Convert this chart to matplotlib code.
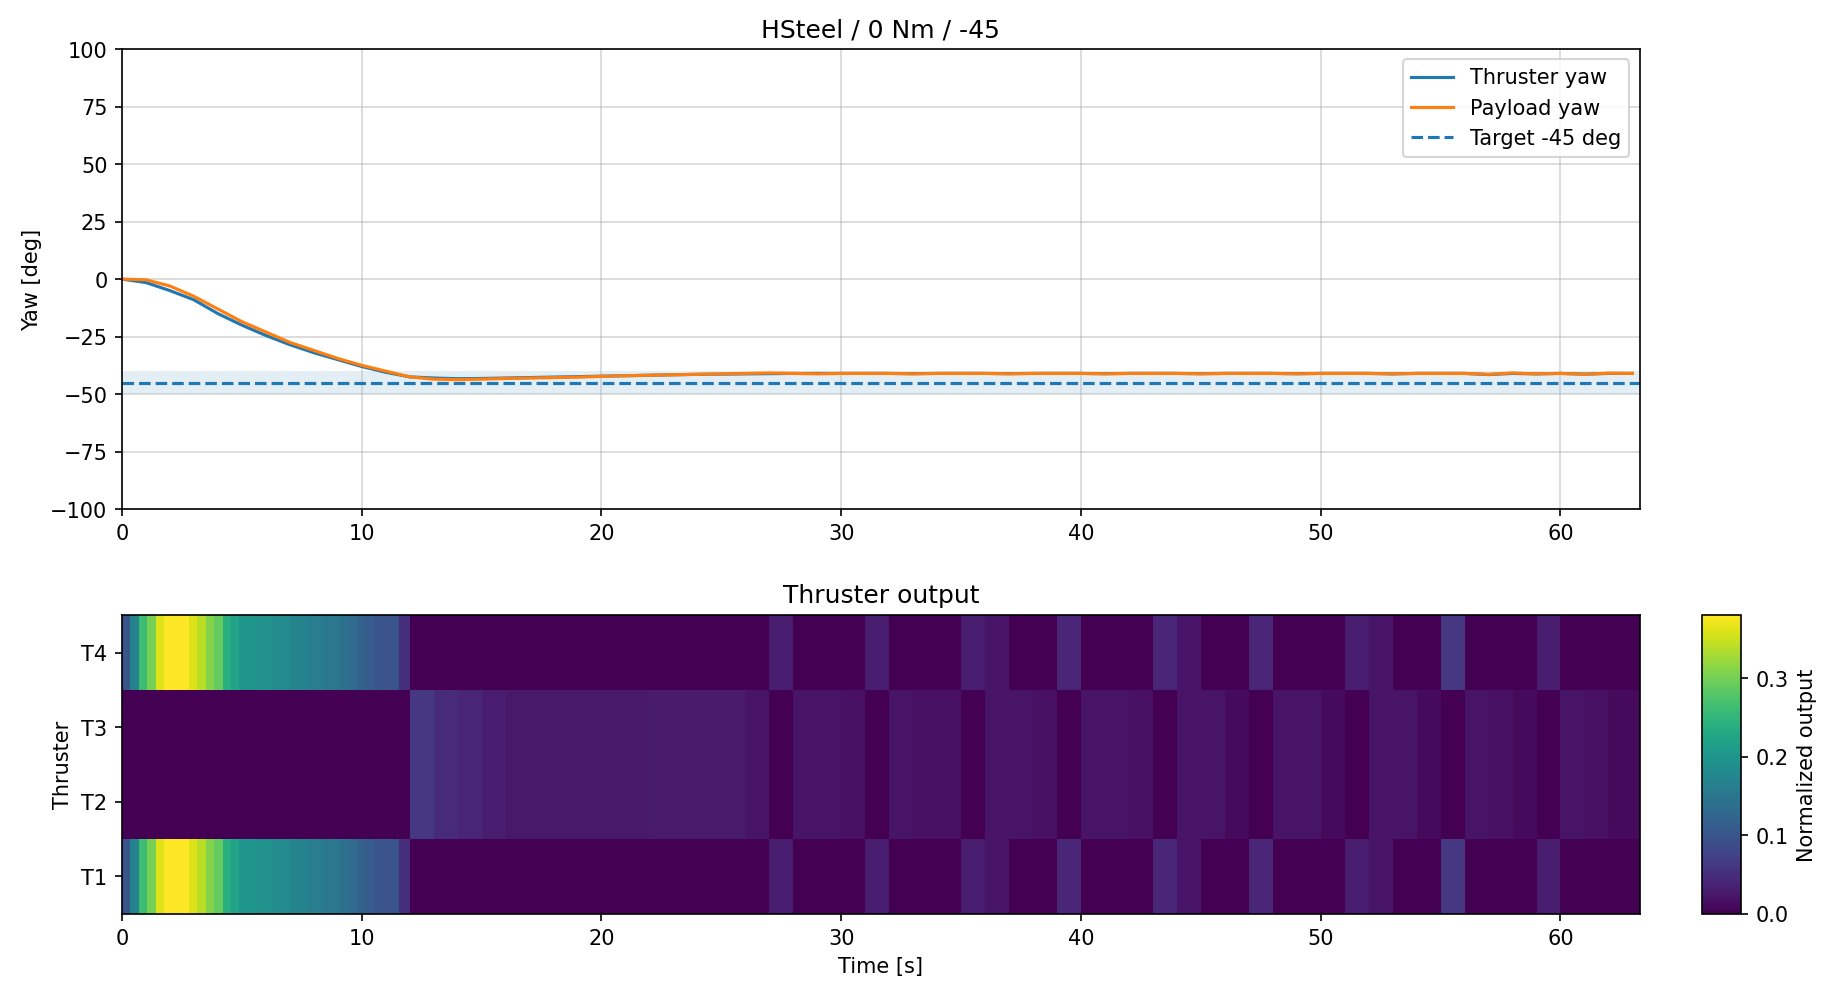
import numpy as np
import matplotlib
matplotlib.use("Agg")
import matplotlib.pyplot as plt

# yaw traces, sampled every 1 s
t_yaw = np.arange(0, 64)
thruster_yaw = [0, -1.5, -5, -9, -15, -20, -24.5, -28.5, -32, -35, -38, -40.5, -42.5, -43, -43.3,
                -43.2, -43, -42.8, -42.6, -42.4, -42.2, -42, -41.8, -41.6, -41.4, -41.3, -41.2,
                -41.1, -41, -41, -41, -41, -41, -41.1, -41, -41, -41, -41.1, -41, -41, -41,
                -41.1, -41, -41, -41, -41.1, -41, -41, -41, -41.1, -41, -41, -41, -41.2, -41,
                -41, -41, -41.5, -41, -41.2, -41, -41.3, -41, -41]
payload_yaw = [0, -0.3, -3, -7.5, -13, -18.5, -23, -27.5, -31, -34.5, -37.5, -40, -42.5, -43.5, -43.7,
               -43.5, -43.2, -43, -42.8, -42.6, -42.3, -42, -41.8, -41.6, -41.4, -41.2, -41, -40.8,
               -41, -41.2, -41, -41, -41, -41.2, -41, -41, -41, -41.2, -41, -41, -41, -41.2, -41,
               -41, -41, -41.2, -41, -41, -41, -41.2, -41, -41, -41, -41.2, -41, -41, -41,
               -41.4, -40.8, -41.2, -41, -41.4, -40.9, -41]
target = -45
tolerance = 5

# thruster outputs: early bins of 0.35 s, later bins of 1 s
early_edges = np.round(np.arange(0, 12.0, 0.35), 2)
t1_early = [0.1, 0.17, 0.26, 0.3, 0.36, 0.38, 0.38, 0.38, 0.36, 0.34, 0.31, 0.29, 0.24, 0.22, 0.2,
            0.2, 0.19, 0.19, 0.18, 0.18, 0.17, 0.17, 0.16, 0.16, 0.15, 0.15, 0.14, 0.13, 0.12,
            0.11, 0.1, 0.1, 0.1, 0.05, 0.05]
late_edges = np.arange(12.0, 64.0, 1.0)
t1_late = [0, 0, 0, 0, 0, 0, 0, 0, 0, 0, 0, 0, 0, 0, 0, 0.03, 0, 0, 0, 0.03, 0, 0, 0, 0.03, 0.02,
           0, 0, 0.04, 0, 0, 0, 0.04, 0.02, 0, 0, 0.04, 0, 0, 0, 0.03, 0.02, 0, 0, 0.06, 0, 0, 0,
           0.03, 0, 0, 0, 0]
t2_late = [0.06, 0.045, 0.04, 0.03, 0.025, 0.025, 0.025, 0.025, 0.025, 0.025, 0.028, 0.028, 0.028,
           0.028, 0.02, 0, 0.02, 0.02, 0.015, 0, 0.02, 0.015, 0.015, 0, 0.02, 0.02, 0.015, 0,
           0.02, 0.02, 0.015, 0, 0.02, 0.02, 0.01, 0, 0.02, 0.02, 0.01, 0, 0.02, 0.02, 0.01,
           0, 0.02, 0.015, 0.01, 0, 0.02, 0.015, 0.01, 0.01]
thruster_labels = ["T1", "T2", "T3", "T4"]

edges = np.concatenate([early_edges, late_edges, [63.3]])
edges = edges[:len(t1_early) + len(t1_late) + 1]
edges[-1] = 63.3
t1 = np.array(t1_early + t1_late)[:len(edges) - 1]
t2 = np.array([0.0] * len(t1_early) + t2_late)[:len(edges) - 1]
grid = np.vstack([t1, t2, t2, t1])

fig = plt.figure(figsize=(12.19, 6.61), dpi=150)
ax1 = fig.add_axes([0.0667, 0.486, 0.830, 0.464])
ax2 = fig.add_axes([0.0667, 0.078, 0.830, 0.301])
cax = fig.add_axes([0.931, 0.078, 0.021, 0.301])

ax1.axhspan(target - tolerance, target + tolerance, color="tab:blue", alpha=0.12, lw=0)
ax1.plot(t_yaw, thruster_yaw, color="tab:blue", label="Thruster yaw")
ax1.plot(t_yaw, payload_yaw, color="tab:orange", label="Payload yaw")
ax1.axhline(target, color="tab:blue", ls="--", label="Target -45 deg")
ax1.set_xlim(0, 63.3)
ax1.set_ylim(-100, 100)
ax1.set_yticks(np.arange(-100, 101, 25))
ax1.set_ylabel("Yaw [deg]")
ax1.set_title("HSteel / 0 Nm / -45")
ax1.grid(True, alpha=0.5)
ax1.legend(loc="upper right")

mesh = ax2.pcolormesh(edges, np.arange(5) - 0.5, grid, cmap="viridis", vmin=0, vmax=0.38)
ax2.set_yticks(range(4))
ax2.set_yticklabels(thruster_labels)
ax2.set_xlim(0, 63.3)
ax2.set_xlabel("Time [s]")
ax2.set_ylabel("Thruster")
ax2.set_title("Thruster output")
cb = fig.colorbar(mesh, cax=cax)
cb.set_label("Normalized output")

fig.savefig("out.png")
